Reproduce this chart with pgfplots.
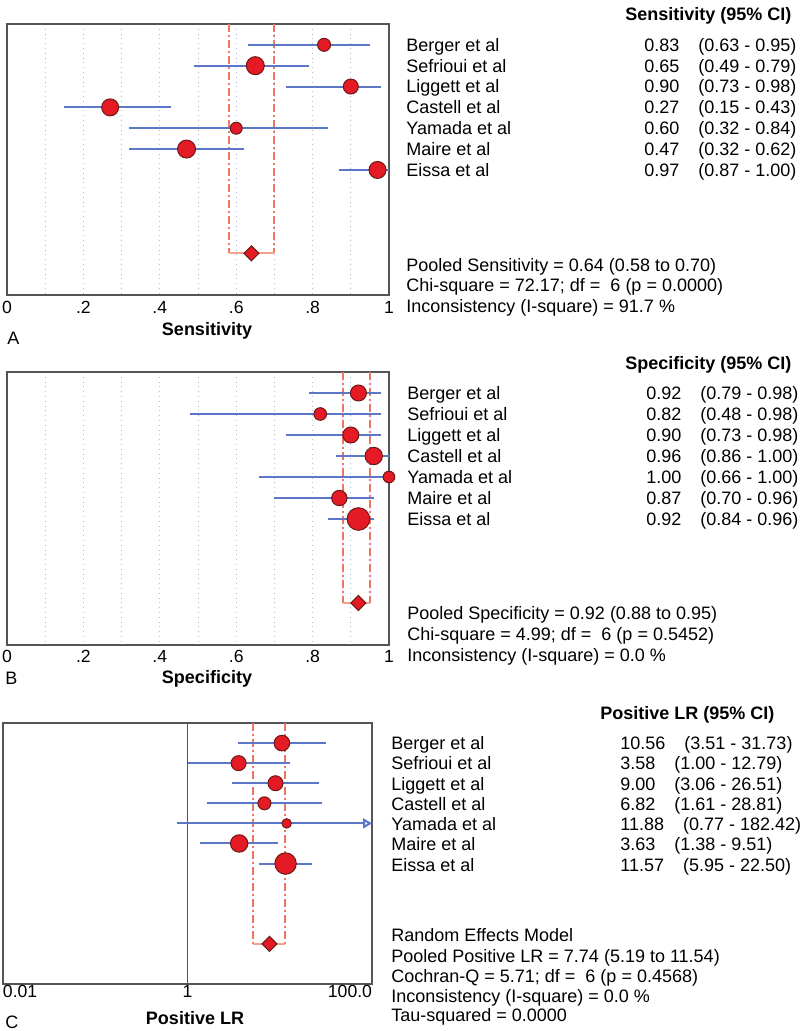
\documentclass[border=0pt]{standalone}
\usepackage{fontspec}
\setmainfont{Liberation Sans}
\usepackage{pgfplots}
\pgfplotsset{compat=1.18}
\usepackage{pgfplotstable}
\usetikzlibrary{arrows.meta}

\definecolor{ptred}{RGB}{228,26,36}
\definecolor{ptedge}{RGB}{110,25,25}
\definecolor{ciblue}{RGB}{92,118,200}
\definecolor{poolc}{RGB}{240,118,98}
\definecolor{poolb}{RGB}{246,160,140}
\definecolor{gridc}{RGB}{175,188,212}
\definecolor{axisgray}{RGB}{85,85,85}

% y = row (1..7 studies), est, lo, hi, r = marker radius in pt
\pgfplotstableread{
y est lo hi r
1 0.83 0.63 0.95 3.25
2 0.65 0.49 0.79 4.5
3 0.90 0.73 0.98 3.75
4 0.27 0.15 0.43 4.25
5 0.60 0.32 0.84 3.0
6 0.47 0.32 0.62 4.5
7 0.97 0.87 1.00 4.25
}\sensA
\pgfplotstableread{
y est lo hi r
1 0.92 0.79 0.98 4.0
2 0.82 0.48 0.98 3.15
3 0.90 0.73 0.98 4.0
4 0.96 0.86 1.00 4.35
5 1.00 0.66 1.00 2.9
6 0.87 0.70 0.96 3.85
7 0.92 0.84 0.96 5.65
}\specB
\pgfplotstableread{
y est lo hi r
1 10.56 3.51 31.73 3.9
2 3.58 1.00 12.79 3.75
3 9.00 3.06 26.51 3.75
4 6.82 1.61 28.81 3.25
5 11.88 0.77 182.42 2.35
6 3.63 1.38 9.51 4.35
7 11.57 5.95 22.50 5.35
}\plrC

\newcommand\drawci[2]{%
  \pgfplotsforeachungrouped \i in {#2}{%
    \pgfplotstablegetelem{\i}{y}\of#1\let\cy\pgfplotsretval
    \pgfplotstablegetelem{\i}{lo}\of#1\let\clo\pgfplotsretval
    \pgfplotstablegetelem{\i}{hi}\of#1\let\chigh\pgfplotsretval
    \edef\tmp{\noexpand\addplot[ci] coordinates {(\clo,\cy) (\chigh,\cy)};}\tmp
  }}

\newcommand\pts[1]{%
  \addplot[scatter, only marks, mark=*,
    scatter/use mapped color={draw=ptedge, fill=ptred},
    mark options={line width=0.5pt},
    visualization depends on={\thisrow{r}\as\rad},
    scatter/@pre marker code/.append style={/tikz/mark size=\rad}]
    table[x=est,y=y]{#1};}

\pgfplotsset{
  fp/.style={scale only axis, y dir=reverse, ymin=0, ymax=13, ytick=\empty,
    clip=false, axis line style={axisgray, line width=0.7pt},
    major tick length=0pt, minor tick length=0pt,
    major grid style={gridc, dotted, line width=0.5pt},
    minor grid style={gridc, dotted, line width=0.5pt},
    xticklabel style={anchor=north, inner sep=0pt, text height=6.2pt,
      text depth=0pt, yshift=-3pt, font=\fontsize{8.8}{10}\selectfont},
    /pgf/number format/assume math mode=true},
  ci/.style={ciblue, line width=1pt},
  pool/.style={poolc, line width=1pt, dash pattern=on 4pt off 1.5pt on 1pt off 1.5pt},
  poolh/.style={poolb, line width=1pt},
  dmd/.style={only marks, mark=square*, mark size=2.65pt,
    mark options={rotate=45, fill=ptred, draw=ptedge, line width=0.5pt}},
}
\tikzset{txt/.style={anchor=west, inner sep=0pt, text height=6.44pt,
    text depth=0pt, font=\fontsize{9}{10.8}\selectfont},
  btxt/.style={txt, font=\fontsize{9}{10.8}\selectfont\bfseries}}

\begin{document}
\begin{tikzpicture}
\useasboundingbox (0,0) rectangle (400pt,-515.5pt);

% ---------- A: sensitivity
\begin{axis}[fp, at={(3.5pt,-12pt)}, anchor=north west,
  width=191pt, height=135.5pt, xmin=0, xmax=1,
  xtick={0,0.2,0.4,0.6,0.8,1}, xticklabels={0,.2,.4,.6,.8,1},
  minor xtick={0.1,0.3,0.5,0.7,0.9}, xmajorgrids, xminorgrids]
\addplot[pool] coordinates {(0.58,0) (0.58,11)};
\addplot[pool] coordinates {(0.70,0) (0.70,11)};
\addplot[poolh] coordinates {(0.58,11) (0.70,11)};
\drawci{\sensA}{0,...,6}
\pts{\sensA}
\addplot[dmd] coordinates {(0.64,11)};
\end{axis}

% ---------- B: specificity
\begin{axis}[fp, at={(3.5pt,-186pt)}, anchor=north west,
  width=191pt, height=136.5pt, xmin=0, xmax=1,
  xtick={0,0.2,0.4,0.6,0.8,1}, xticklabels={0,.2,.4,.6,.8,1},
  minor xtick={0.1,0.3,0.5,0.7,0.9}, xmajorgrids, xminorgrids,
  xticklabel style={yshift=0.6pt}]
\addplot[pool] coordinates {(0.88,0) (0.88,11)};
\addplot[pool] coordinates {(0.95,0) (0.95,11)};
\addplot[poolh] coordinates {(0.88,11) (0.95,11)};
\drawci{\specB}{0,...,6}
\pts{\specB}
\addplot[dmd] coordinates {(0.92,11)};
\end{axis}

% ---------- C: positive LR
\begin{axis}[fp, at={(1.5pt,-361.5pt)}, anchor=north west,
  width=184.5pt, height=130.5pt, xmode=log, xmin=0.01, xmax=100,
  xtick={0.01,1,100}, xticklabels={\rlap{0.01},1,\llap{100.0}},
  minor xtick={}, xticklabel style={yshift=2.5pt}]
\addplot[axisgray, line width=0.7pt] coordinates {(1,0) (1,13)};
\addplot[pool] coordinates {(5.19,0) (5.19,11)};
\addplot[pool] coordinates {(11.54,0) (11.54,11)};
\addplot[poolh] coordinates {(5.19,11) (11.54,11)};
\drawci{\plrC}{0,1,2,3,5,6}
% Yamada: upper limit 182.42 runs off the scale
\addplot[ci, -{Triangle[open, length=4.5pt, width=5pt]}] coordinates {(0.77,5) (100,5)};
\pts{\plrC}
\addplot[dmd] coordinates {(7.74,11)};
\end{axis}

% ---------- axis titles and panel letters
\node[btxt, anchor=center] at (103.5pt,-164.5pt) {Sensitivity};
\node[txt] at (3.5pt,-169pt) {A};
\node[btxt, anchor=center] at (103.5pt,-338.5pt) {Specificity};
\node[txt] at (2.5pt,-339pt) {B};
\node[btxt, anchor=center] at (97.5pt,-509.25pt) {Positive LR};
\node[txt] at (2.5pt,-511pt) {C};

% ---------- A text
\node[btxt] at (312.5pt,-7pt) {Sensitivity (95\% CI)};
\foreach \nm/\v/\c [count=\k] in {
  Berger et al/0.83/(0.63 - 0.95), Sefrioui et al/0.65/(0.49 - 0.79),
  Liggett et al/0.90/(0.73 - 0.98), Castell et al/0.27/(0.15 - 0.43),
  Yamada et al/0.60/(0.32 - 0.84), Maire et al/0.47/(0.32 - 0.62),
  Eissa et al/0.97/(0.87 - 1.00)}{
  \node[txt] at (203pt,{-0.5*(24+20.85*\k)*1pt}) {\nm};
  \node[txt] at (322pt,{-0.5*(24+20.85*\k)*1pt}) {\v\hspace{9.5pt}\c};
}
\node[txt] at (203pt,-132.5pt) {Pooled Sensitivity = 0.64 (0.58 to 0.70)};
\node[txt] at (203pt,-142.5pt) {Chi-square = 72.17; df = \ 6 (p = 0.0000)};
\node[txt] at (203pt,-153pt) {Inconsistency (I-square) = 91.7 \%};

% ---------- B text
\node[btxt] at (312.5pt,-181.5pt) {Specificity (95\% CI)};
\foreach \nm/\v/\c [count=\k] in {
  Berger et al/0.92/(0.79 - 0.98), Sefrioui et al/0.82/(0.48 - 0.98),
  Liggett et al/0.90/(0.73 - 0.98), Castell et al/0.96/(0.86 - 1.00),
  Yamada et al/1.00/(0.66 - 1.00), Maire et al/0.87/(0.70 - 0.96),
  Eissa et al/0.92/(0.84 - 0.96)}{
  \node[txt] at (203.5pt,{-0.5*(372+21*\k)*1pt}) {\nm};
  \node[txt] at (323pt,{-0.5*(372+21*\k)*1pt}) {\v\hspace{9.5pt}\c};
}
\node[txt] at (203.5pt,-306.5pt) {Pooled Specificity = 0.92 (0.88 to 0.95)};
\node[txt] at (203.5pt,-317pt) {Chi-square = 4.99; df = \ 6 (p = 0.5452)};
\node[txt] at (203.5pt,-327.5pt) {Inconsistency (I-square) = 0.0 \%};

% ---------- C text
\node[btxt] at (300pt,-356.5pt) {Positive LR (95\% CI)};
\foreach \nm/\v/\c [count=\k] in {
  Berger et al/10.56/(3.51 - 31.73), Sefrioui et al/3.58/(1.00 - 12.79),
  Liggett et al/9.00/(3.06 - 26.51), Castell et al/6.82/(1.61 - 28.81),
  Yamada et al/11.88/(0.77 - 182.42), Maire et al/3.63/(1.38 - 9.51),
  Eissa et al/11.57/(5.95 - 22.50)}{
  \node[txt] at (195.5pt,{-0.5*(723+20.23*\k)*1pt}) {\nm};
  \node[txt] at (310pt,{-0.5*(723+20.23*\k)*1pt}) {\v\hspace{9.5pt}\c};
}
\node[txt] at (195.5pt,-467.5pt) {Random Effects Model};
\node[txt] at (195.5pt,-478pt) {Pooled Positive LR = 7.74 (5.19 to 11.54)};
\node[txt] at (195.5pt,-488pt) {Cochran-Q = 5.71; df = \ 6 (p = 0.4568)};
\node[txt] at (195.5pt,-498pt) {Inconsistency (I-square) = 0.0 \%};
\node[txt] at (195.5pt,-507.5pt) {Tau-squared = 0.0000};
\end{tikzpicture}
\end{document}
